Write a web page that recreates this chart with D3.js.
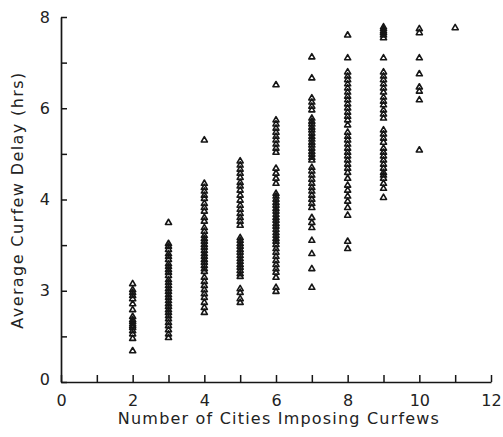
<!DOCTYPE html>
<html>
<head>
<meta charset="utf-8">
<script src="https://cdn.jsdelivr.net/npm/d3@7/dist/d3.min.js"></script>
<style>
  html, body { margin: 0; padding: 0; background: #fff; }
  svg { display: block; }
  text { font-family: "DejaVu Sans", "Liberation Sans", sans-serif; fill: #222; }
</style>
</head>
<body>
<svg id="chart" width="503" height="437"></svg>
<script>
// Number of cities imposing curfews (x) for each column of points
const cityCounts = [2, 3, 4, 5, 6, 7, 8, 9, 10, 11];

// Average curfew delay (hrs) observed for each city count
const delays2 = [2.15, 2.02, 1.96, 1.89, 1.82, 1.71, 1.58, 1.43, 1.36, 1.32, 1.27, 1.23, 1.19, 1.12, 1.05, 0.95, 0.68];
const delays3 = [3.49, 3.03, 2.97, 2.90, 2.81, 2.75, 2.68, 2.59, 2.53, 2.46, 2.40, 2.33, 2.24, 2.18, 2.11, 2.04, 1.98, 1.91, 1.85, 1.78, 1.71, 1.65, 1.58, 1.52, 1.45, 1.38, 1.30, 1.23, 1.14, 1.05, 0.97];
const delays4 = [5.30, 4.35, 4.26, 4.18, 4.09, 4.02, 3.91, 3.82, 3.74, 3.60, 3.52, 3.38, 3.30, 3.21, 3.14, 3.08, 3.01, 2.95, 2.88, 2.81, 2.75, 2.68, 2.62, 2.55, 2.48, 2.42, 2.29, 2.20, 2.11, 2.02, 1.93, 1.85, 1.74, 1.63, 1.52];
const delays5 = [4.84, 4.75, 4.66, 4.57, 4.48, 4.37, 4.29, 4.20, 4.09, 3.98, 3.87, 3.78, 3.69, 3.60, 3.52, 3.43, 3.16, 3.10, 3.03, 2.97, 2.90, 2.84, 2.77, 2.70, 2.64, 2.57, 2.51, 2.44, 2.37, 2.31, 2.04, 1.96, 1.82, 1.74];
const delays6 = [6.51, 5.74, 5.65, 5.56, 5.47, 5.38, 5.30, 5.21, 5.12, 5.03, 4.68, 4.57, 4.46, 4.35, 4.13, 4.07, 4.00, 3.93, 3.87, 3.80, 3.74, 3.67, 3.60, 3.54, 3.47, 3.41, 3.34, 3.27, 3.21, 3.14, 3.08, 3.01, 2.92, 2.84, 2.75, 2.66, 2.57, 2.48, 2.40, 2.29, 2.07, 1.98];
const delays7 = [7.12, 6.66, 6.22, 6.13, 6.04, 5.96, 5.78, 5.71, 5.65, 5.58, 5.52, 5.45, 5.38, 5.32, 5.25, 5.19, 5.12, 5.05, 4.99, 4.92, 4.86, 4.70, 4.62, 4.53, 4.44, 4.35, 4.26, 4.18, 4.09, 4.00, 3.91, 3.82, 3.60, 3.49, 3.38, 3.10, 2.81, 2.48, 2.07];
const delays8 = [7.60, 7.10, 6.79, 6.70, 6.62, 6.53, 6.44, 6.35, 6.26, 6.18, 6.09, 6.00, 5.91, 5.82, 5.74, 5.63, 5.47, 5.38, 5.30, 5.21, 5.12, 5.03, 4.95, 4.86, 4.77, 4.68, 4.59, 4.46, 4.31, 4.20, 4.07, 3.96, 3.82, 3.65, 3.08, 2.92];
const delays9 = [7.78, 7.74, 7.69, 7.65, 7.60, 7.54, 7.10, 6.79, 6.70, 6.62, 6.53, 6.44, 6.35, 6.24, 6.15, 6.07, 5.96, 5.87, 5.78, 5.52, 5.43, 5.34, 5.25, 5.12, 5.03, 4.95, 4.86, 4.77, 4.68, 4.59, 4.53, 4.46, 4.35, 4.24, 4.04];
const delays10 = [7.74, 7.65, 7.10, 6.75, 6.46, 6.37, 6.18, 5.08];
const delays11 = [7.76];

const delaySeries = [delays2, delays3, delays4, delays5, delays6, delays7, delays8, delays9, delays10, delays11];

// Axis ticks and their printed labels
const xTickValues = [0, 1, 2, 3, 4, 5, 6, 7, 8, 9, 10, 11, 12];
const xTickLabels = ["0", "", "2", "", "4", "", "6", "", "8", "", "10", "", "12"];
const yTickValues = [0, 1, 2, 3, 4, 5, 6, 7, 8];
const yTickLabels = ["0", "", "3", "", "4", "", "6", "", "8"];

const xTitle = "Number of Cities Imposing Curfews";
const yTitle = "Average Curfew Delay (hrs)";

const points = [];
cityCounts.forEach((c, i) => delaySeries[i].forEach(d => points.push({ x: c, y: d })));

const svg = d3.select("#chart");
const margin = { left: 61, right: 12, top: 17, bottom: 55 };
const W = 503, H = 437;

const x = d3.scaleLinear().domain([0, 12]).range([margin.left, W - margin.right]);
const y = d3.scaleLinear().domain([0, 8]).range([H - margin.bottom, margin.top]);

const ink = "#161616";

// x axis with inward ticks
const xAxis = d3.axisBottom(x)
  .tickValues(xTickValues)
  .tickSize(-7)
  .tickSizeOuter(0)
  .tickPadding(13)
  .tickFormat((d, i) => xTickLabels[i]);

const gx = svg.append("g")
  .attr("transform", `translate(0,${y(0)})`)
  .call(xAxis);
gx.select(".domain").attr("stroke", ink).attr("stroke-width", 1.7);
gx.selectAll(".tick line").attr("stroke", ink).attr("stroke-width", 1.5);
gx.selectAll(".tick text").attr("font-size", 16).attr("fill", ink)
  .style("font-family", '"DejaVu Sans", sans-serif');

// y axis with inward ticks
const yAxis = d3.axisLeft(y)
  .tickValues(yTickValues)
  .tickSize(-6)
  .tickSizeOuter(0)
  .tickPadding(11)
  .tickFormat((d, i) => yTickLabels[i]);

const gy = svg.append("g")
  .attr("transform", `translate(${x(0)},0)`)
  .call(yAxis);
gy.select(".domain").attr("stroke", ink).attr("stroke-width", 1.7);
gy.selectAll(".tick line").attr("stroke", ink).attr("stroke-width", 1.5);
gy.selectAll(".tick text").attr("font-size", 16).attr("fill", ink)
  .style("font-family", '"DejaVu Sans", sans-serif');
gy.selectAll(".tick").filter(d => d === 0).select("text").attr("dy", "0.15em");

// axis titles
svg.append("text")
  .attr("x", 279)
  .attr("y", 424)
  .attr("text-anchor", "middle")
  .attr("font-size", 16)
  .attr("fill", ink)
  .attr("letter-spacing", 1.2)
  .text(xTitle);

svg.append("text")
  .attr("transform", `translate(23,${200}) rotate(-90)`)
  .attr("text-anchor", "middle")
  .attr("font-size", 16)
  .attr("fill", ink)
  .attr("letter-spacing", 1.4)
  .text(yTitle);

// open triangle markers
const tri = d3.symbol().type(d3.symbolTriangle).size(16);
svg.append("g")
  .selectAll("path")
  .data(points)
  .join("path")
  .attr("d", tri)
  .attr("transform", d => `translate(${x(d.x)},${y(d.y)})`)
  .attr("fill", "none")
  .attr("stroke", ink)
  .attr("stroke-width", 1.6)
  .attr("stroke-linejoin", "round");
</script>
</body>
</html>
